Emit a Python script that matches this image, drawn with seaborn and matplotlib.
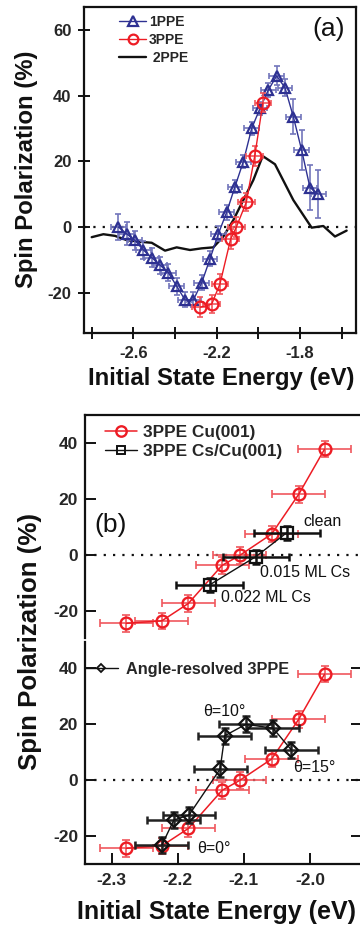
import matplotlib
matplotlib.use("Agg")
import matplotlib.pyplot as plt
import seaborn as sns
from matplotlib.lines import Line2D

# ---------------- data ----------------
# panel (a) 1PPE
E_1ppe = [-2.672, -2.632, -2.592, -2.552, -2.512, -2.472, -2.432, -2.392, -2.352, -2.312,
          -2.272, -2.232, -2.192, -2.152, -2.112, -2.072, -2.032, -1.992, -1.952, -1.912,
          -1.872, -1.832, -1.792, -1.752, -1.712]
P_1ppe = [0.0, -2.1, -4.1, -7.0, -9.3, -11.6, -13.9, -18.0, -22.2, -22.2,
          -17.0, -9.7, -2.1, 4.5, 12.3, 19.9, 30.0, 36.1, 41.7, 46.0,
          42.4, 33.6, 23.4, 12.0, 10.0]
P_1ppe_err = [4.0, 3.5, 2.9, 2.8, 2.8, 2.6, 2.6, 2.6, 2.3, 2.3,
              2.3, 2.3, 2.3, 2.3, 2.0, 2.0, 2.0, 2.0, 2.2, 2.9,
              2.5, 5.3, 6.0, 6.9, 7.4]
E_1ppe_err = 0.035

# 3PPE Cu(001)  (panels a and b)
E_3ppe = [-2.278, -2.224, -2.184, -2.133, -2.106, -2.058, -2.017, -1.978]
P_3ppe = [-24.4, -23.5, -17.3, -3.7, -0.1, 7.5, 21.7, 37.8]
P_3ppe_err = [3.0, 2.8, 3.1, 3.0, 3.0, 2.7, 3.0, 2.9]
E_3ppe_err = 0.04

# 2PPE line (panel a)
E_2ppe = [-2.800, -2.744, -2.688, -2.632, -2.568, -2.512, -2.448, -2.392, -2.328, -2.272,
          -2.216, -2.168, -2.120, -2.072, -2.024, -1.979, -1.920, -1.832, -1.744, -1.688,
          -1.632, -1.576]
P_2ppe = [-3.1, -2.2, -2.7, -4.0, -4.5, -4.8, -7.2, -6.2, -7.0, -6.5,
          -6.2, -2.9, 2.1, 8.2, 14.3, 21.6, 19.1, 8.2, -0.2, 0.3,
          -2.9, -1.1]

# 3PPE Cs/Cu(001)
E_cs = [-2.152, -2.082, -2.035]
P_cs = [-10.7, -0.6, 8.0]
P_cs_err = [2.5, 2.5, 2.5]
E_cs_err = 0.05
cs_labels = ["0.022 ML Cs", "0.015 ML Cs", "clean"]

# angle-resolved 3PPE
E_ar = [-2.224, -2.206, -2.183, -2.136, -2.129, -2.097, -2.056, -2.028]
P_ar = [-23.2, -14.3, -12.5, 3.9, 15.8, 19.9, 18.5, 10.7]
P_ar_err = [2.8, 2.8, 2.8, 2.8, 2.8, 2.8, 2.8, 2.8]
E_ar_err = 0.04
ar_labels = ["θ=0°", "θ=10°", "θ=15°"]

# ticks
a_xticks = [-2.6, -2.2, -1.8]
a_xminor = [-2.8, -2.4, -2.0, -1.6]
a_yticks = [60, 40, 20, 0, -20]
b_xticks = [-2.3, -2.2, -2.1, -2.0]
b_yticks = [40, 20, 0, -20]

# ---------------- style ----------------
sns.set_theme(style="ticks")
plt.rcParams["font.family"] = ["Liberation Sans", "DejaVu Sans"]
plt.rcParams["axes.unicode_minus"] = False

BLUE = "#2e3192"
BLUE_ERR = "#7275bb"
RED = "#ed1c24"
RED_ERR = "#f0585e"
BLK = "#111111"

W, H = 360, 926
fig = plt.figure(figsize=(W / 100, H / 100), dpi=100)


def rect(l, t, r, b):
    return [l / W, 1 - b / H, (r - l) / W, (b - t) / H]


axA = fig.add_axes(rect(84, 7, 356, 333))
axB1 = fig.add_axes(rect(85, 415, 362, 638))
axB2 = fig.add_axes(rect(85, 642, 362, 864))

for ax in (axA, axB1, axB2):
    for s in ax.spines.values():
        s.set_linewidth(1.6)
        s.set_color(BLK)
    ax.set_facecolor("white")

dot = (0, (1, 3.2))

# ---------------- panel (a) ----------------
axA.axhline(0, color=BLK, lw=1.6, ls=dot, zorder=1)
sns.lineplot(x=E_2ppe, y=P_2ppe, ax=axA, color=BLK, lw=1.7, sort=False,
             estimator=None, legend=False, zorder=2)
axA.errorbar(E_1ppe, P_1ppe, xerr=E_1ppe_err, yerr=P_1ppe_err, fmt="none",
             ecolor=BLUE_ERR, elinewidth=1.2, capsize=2.5, capthick=1.2, zorder=3)
sns.lineplot(x=E_1ppe, y=P_1ppe, ax=axA, color=BLUE, lw=1.0, sort=False,
             estimator=None, legend=False, marker="^", markersize=7.5,
             markerfacecolor="none", markeredgecolor=BLUE, markeredgewidth=1.6, zorder=4)
axA.errorbar(E_3ppe, P_3ppe, xerr=E_3ppe_err, yerr=P_3ppe_err, fmt="none",
             ecolor=RED_ERR, elinewidth=1.2, capsize=2.5, capthick=1.2, zorder=5)
sns.lineplot(x=E_3ppe, y=P_3ppe, ax=axA, color=RED, lw=1.0, sort=False,
             estimator=None, legend=False, marker="o", markersize=8.5,
             markerfacecolor="none", markeredgecolor=RED, markeredgewidth=1.6, zorder=6)

axA.set_xlim(-2.837, -1.531)
axA.set_ylim(-32.27, 66.97)
axA.set_xticks(a_xticks)
axA.set_xticklabels([f"{v:.1f}" for v in a_xticks])
axA.set_xticks(a_xminor, minor=True)
axA.set_yticks(a_yticks)
axA.set_yticklabels([str(v) for v in a_yticks])
axA.tick_params(axis="both", which="both", direction="inout", length=9, width=1.4,
                labelsize=12, pad=4.5, color=BLK)
axA.tick_params(top=False, right=False)
for t in axA.get_xticklabels() + axA.get_yticklabels():
    t.set_fontweight("bold")
axA.set_xlabel("")
axA.set_ylabel("")

hA = [Line2D([], [], color=BLUE, lw=1.0, marker="^", ms=7, mfc="none", mec=BLUE, mew=1.6),
      Line2D([], [], color=RED, lw=1.0, marker="o", ms=7, mfc="none", mec=RED, mew=1.6),
      Line2D([], [], color=BLK, lw=1.7)]
axA.legend(hA, ["1PPE", "3PPE", " 2PPE"], loc="upper left",
           bbox_to_anchor=(119 / W, 1 - 15 / H), bbox_transform=fig.transFigure,
           frameon=False, prop=dict(weight="bold", size=10), handlelength=1.95,
           handletextpad=0.2, labelspacing=0.3, borderpad=0, borderaxespad=0)

fig.text(329 / W, 1 - 29 / H, "(a)", fontsize=19, ha="center", va="center", color=BLK)
fig.text(27 / W, 1 - 169 / H, "Spin Polarization (%)", rotation=90, fontsize=17.2,
         fontweight="bold", ha="center", va="center", color=BLK)
fig.text(221 / W, 1 - 378 / H, "Initial State Energy (eV)", fontsize=17.2,
         fontweight="bold", ha="center", va="center", color=BLK)

# ---------------- panel (b) ----------------
for ax in (axB1, axB2):
    ax.axhline(0, color=BLK, lw=1.6, ls=dot, zorder=1)
    ax.errorbar(E_3ppe, P_3ppe, xerr=E_3ppe_err, yerr=P_3ppe_err, fmt="none",
                ecolor=RED_ERR, elinewidth=1.2, capsize=3, capthick=1.2, zorder=3)
    sns.lineplot(x=E_3ppe, y=P_3ppe, ax=ax, color=RED, lw=1.1, sort=False,
                 estimator=None, legend=False, marker="o", markersize=8.5,
                 markerfacecolor="none", markeredgecolor=RED, markeredgewidth=1.7, zorder=4)
    ax.set_xlim(-2.3404, -1.9213)
    ax.set_xticks(b_xticks)
    ax.set_xticklabels([f"{v:.1f}" for v in b_xticks])
    ax.set_yticks(b_yticks)
    ax.set_yticklabels([str(v) for v in b_yticks])
    ax.tick_params(axis="both", direction="in", length=8, width=1.4, labelsize=12.5,
                   pad=5, color=BLK)
    for t in ax.get_xticklabels() + ax.get_yticklabels():
        t.set_fontweight("bold")
    ax.set_xlabel("")
    ax.set_ylabel("")

axB1.set_ylim(-29.64, 50)
axB2.set_ylim(-30, 49.29)

# Cs/Cu(001)
axB1.errorbar(E_cs, P_cs, xerr=E_cs_err, yerr=P_cs_err, fmt="none", ecolor=BLK,
              elinewidth=1.8, capsize=3, capthick=1.8, zorder=5)
sns.lineplot(x=E_cs, y=P_cs, ax=axB1, color=BLK, lw=1.0, sort=False, estimator=None,
             legend=False, marker="s", markersize=8, markerfacecolor="none",
             markeredgecolor=BLK, markeredgewidth=1.6, zorder=6)
axB1.spines["bottom"].set_visible(False)
axB1.tick_params(axis="x", bottom=False, labelbottom=False)
axB1.tick_params(axis="y", right=False)

cs_pos = [(-2.1346, -15.0), (-2.0756, -6.4), (-2.0106, 11.8)]
for (x, y), s in zip(cs_pos, cs_labels):
    axB1.text(x, y, s, fontsize=11.5, ha="left", va="center", color=BLK)

hB1 = [Line2D([], [], color=RED, lw=1.1, marker="o", ms=7.5, mfc="none", mec=RED, mew=1.7),
       Line2D([], [], color=BLK, lw=1.0, marker="s", ms=6, mfc="none", mec=BLK, mew=1.4)]
axB1.legend(hB1, ["3PPE Cu(001)", "3PPE Cs/Cu(001)"], loc="upper left",
            bbox_to_anchor=(105 / W, 1 - 425 / H), bbox_transform=fig.transFigure,
            frameon=False, prop=dict(weight="bold", size=12.4), handlelength=1.85,
            handletextpad=0.35, labelspacing=0.2, borderpad=0, borderaxespad=0)

# angle-resolved
axB2.errorbar(E_ar, P_ar, xerr=E_ar_err, yerr=P_ar_err, fmt="none", ecolor="#222222",
              elinewidth=1.8, capsize=3, capthick=1.8, zorder=5)
sns.lineplot(x=E_ar, y=P_ar, ax=axB2, color=BLK, lw=1.0, sort=False, estimator=None,
             legend=False, marker="D", markersize=7.5, markerfacecolor="none",
             markeredgecolor=BLK, markeredgewidth=1.6, zorder=6)
axB2.spines["top"].set_visible(False)
axB2.tick_params(axis="x", top=False, pad=6.5)
axB2.tick_params(axis="y", right=True)

ar_pos = [(-2.171, -24.6), (-2.1619, 24.3), (-2.0257, 4.3)]
for (x, y), s in zip(ar_pos, ar_labels):
    axB2.text(x, y, s, fontsize=11.5, ha="left", va="center", color=BLK)

hB2 = [Line2D([], [], color=BLK, lw=1.0, marker="D", ms=4.5, mfc="none", mec=BLK, mew=1.3)]
axB2.legend(hB2, ["Angle-resolved 3PPE"], loc="upper left",
            bbox_to_anchor=(85 / W, 1 - 662 / H), bbox_transform=fig.transFigure,
            frameon=False, prop=dict(weight="bold", size=11.7), handlelength=2.0,
            handletextpad=0.5, borderpad=0, borderaxespad=0)

fig.text(111 / W, 1 - 525 / H, "(b)", fontsize=19, ha="center", va="center", color=BLK)
fig.text(30 / W, 1 - 641 / H, "Spin Polarization (%)", rotation=90, fontsize=18.6,
         fontweight="bold", ha="center", va="center", color=BLK)
fig.text(77 / W, 1 - 912 / H, "Initial State Energy (eV)", fontsize=18.0,
         fontweight="bold", ha="left", va="center", color=BLK)

fig.savefig("out.png", dpi=100, facecolor="white")
